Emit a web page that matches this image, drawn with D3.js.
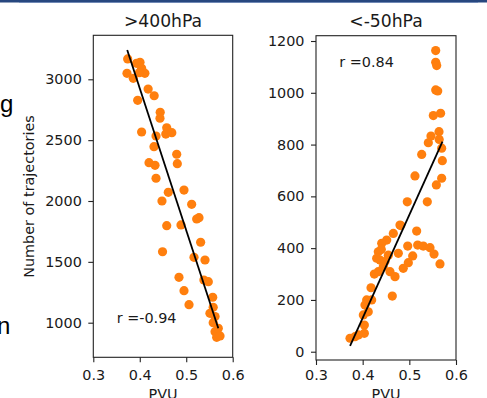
<!DOCTYPE html>
<html>
<head>
<meta charset="utf-8">
<script src="https://cdn.jsdelivr.net/npm/d3@7"></script>
<style>
  body { margin: 0; background: #fff; }
  svg { display: block; }
  text { font-family: "DejaVu Sans", sans-serif; fill: #1a1a1a; }
</style>
</head>
<body>
<svg id="chart" width="487" height="398"></svg>
<script>
// values
var titles = [">400hPa", "<-50hPa"];
var rLabels = ["r =-0.94", "r =0.84"];

// >400hPa panel: pvu, number of trajectories
var pvuHigh = [0.374, 0.3725, 0.386, 0.4005, 0.393, 0.404, 0.411, 0.399, 0.418, 0.431, 0.3955, 0.444, 0.4435,
  0.404, 0.435, 0.458, 0.456, 0.469, 0.4306, 0.4795, 0.4808, 0.4199, 0.4328, 0.435, 0.4952, 0.4614, 0.4478,
  0.5117, 0.5275, 0.5225, 0.458, 0.4887, 0.531, 0.449, 0.5167, 0.5404, 0.538, 0.5475, 0.4844, 0.4952, 0.557,
  0.506, 0.558, 0.551, 0.562, 0.558, 0.569, 0.562, 0.5655, 0.5727];
var nHigh = [3167, 3049, 3008, 3140, 3131, 3090, 3049, 3054, 2920, 2865, 2827, 2729, 2680,
  2567, 2534, 2602, 2550, 2561, 2446, 2384, 2307, 2315, 2293, 2187, 2090, 2071, 2000,
  1973, 1863, 1852, 1797, 1803, 1661, 1583, 1537, 1515, 1351, 1337, 1373, 1263, 1209,
  1148, 1127, 1077, 1050, 1000, 954, 926, 880, 891];

// <-50hPa panel
var pvuLow = [0.5565, 0.5565, 0.5586, 0.5565, 0.5608, 0.5514, 0.567, 0.5636, 0.5464, 0.5407, 0.564, 0.5693,
  0.5707, 0.5265, 0.5121, 0.5693, 0.5579, 0.4956, 0.5385, 0.48, 0.5157, 0.4815, 0.4657, 0.4515, 0.4408,
  0.4335, 0.43, 0.4371, 0.4479, 0.4335, 0.4442, 0.455, 0.4764, 0.4586, 0.4693, 0.4965, 0.5072, 0.4978,
  0.487, 0.5179, 0.5299, 0.5443, 0.5529, 0.5657, 0.4635, 0.4179, 0.4193, 0.4086, 0.405, 0.4014, 0.412,
  0.4036, 0.4036, 0.3907, 0.3729, 0.3836, 0.44, 0.425];
var nLow = [1163, 1118, 1105, 1011, 1007, 912, 921, 850, 833, 807, 820, 786,
  738, 762, 679, 670, 644, 579, 579, 489, 466, 487, 457, 431, 419,
  386, 361, 354, 348, 309, 328, 373, 380, 309, 290, 408, 370, 344,
  322, 412, 408, 402, 377, 339, 215, 247, 200, 200, 180, 142, 154,
  103, 71, 65, 52, 58, 395, 300];

// fitted lines (end points)
var fitHigh = [[0.373, 3241], [0.569, 954]];
var fitLow = [[0.373, 23], [0.571, 811]];

var xTicks = [0.3, 0.4, 0.5, 0.6];
var yTicksHigh = [1000, 1500, 2000, 2500, 3000];
var yTicksLow = [0, 200, 400, 600, 800, 1000, 1200];

var svg = d3.select("#chart");

// slide header strip
svg.append("rect").attr("x", 0).attr("y", 0).attr("width", 487).attr("height", 2.5).attr("fill", "#27477f");
svg.append("rect").attr("x", 19).attr("y", 2).attr("width", 459).attr("height", 1).attr("fill", "#6f88b5");

// slide text cut off on the left
svg.append("text").attr("x", 0).attr("y", 112).style("font-family", "Liberation Sans, Arial, sans-serif")
  .style("font-size", "24px").style("fill", "#000").text("g");
svg.append("text").attr("x", -3).attr("y", 334).style("font-family", "Liberation Sans, Arial, sans-serif")
  .style("font-size", "24px").style("fill", "#000").text("n");

var panels = [
  {x0: 93.3, x1: 232.7, y0: 35.3, y1: 357.3, ydom: [715.7, 3361.5], pvu: pvuHigh, n: nHigh, fit: fitHigh,
   yt: yTicksHigh, title: titles[0], r: rLabels[0], rx: 116.7, ry: 322.5, ylabel: true},
  {x0: 316, x1: 456, y0: 35.7, y1: 360, ydom: [-32, 1220.5], pvu: pvuLow, n: nLow, fit: fitLow,
   yt: yTicksLow, title: titles[1], r: rLabels[1], rx: 339.3, ry: 66.7, ylabel: false}
];

panels.forEach(function(p) {
  var x = d3.scaleLinear().domain([0.3, 0.6]).range([p.x0, p.x1]);
  var y = d3.scaleLinear().domain(p.ydom).range([p.y1, p.y0]);
  var g = svg.append("g");

  var pts = p.pvu.map(function(d, i) { return [d, p.n[i]]; });
  g.selectAll("circle").data(pts).enter().append("circle")
    .attr("cx", d => x(d[0])).attr("cy", d => y(d[1]))
    .attr("r", 4.6).attr("fill", "#ff7f0e");

  g.append("path")
    .attr("d", d3.line().x(d => x(d[0])).y(d => y(d[1]))(p.fit))
    .attr("fill", "none").attr("stroke", "#000").attr("stroke-width", 1.8);

  // frame
  g.append("rect").attr("x", p.x0).attr("y", p.y0).attr("width", p.x1 - p.x0).attr("height", p.y1 - p.y0)
    .attr("fill", "none").attr("stroke", "#222").attr("stroke-width", 1.1);

  var xa = g.append("g").attr("transform", "translate(0," + p.y1 + ")")
    .call(d3.axisBottom(x).tickValues(xTicks).tickFormat(d3.format(".1f")).tickSizeOuter(0).tickSize(5).tickPadding(4));
  var ya = g.append("g").attr("transform", "translate(" + p.x0 + ",0)")
    .call(d3.axisLeft(y).tickValues(p.yt).tickFormat(d3.format("d")).tickSizeOuter(0).tickSize(5).tickPadding(6.5));
  [xa, ya].forEach(function(a) {
    a.select(".domain").remove();
    a.selectAll("line").attr("stroke", "#222").attr("stroke-width", 1.1);
    a.selectAll("text").style("font-size", "14.4px").style("font-family", "DejaVu Sans").attr("fill", "#1a1a1a");
  });
  xa.selectAll("text").attr("y", 0).attr("dy", 0).attr("transform", "translate(0," + (380 - p.y1) + ")");

  var cx = (p.x0 + p.x1) / 2;
  svg.append("text").attr("x", cx).attr("y", 27.3).attr("text-anchor", "middle")
    .style("font-size", "17.2px").text(p.title);
  svg.append("text").attr("x", cx).attr("y", 399).attr("text-anchor", "middle")
    .style("font-size", "14.4px").text("PVU");
  svg.append("text").attr("x", p.rx).attr("y", p.ry)
    .style("font-size", "14.4px").text(p.r);

  if (p.ylabel) {
    svg.append("text").attr("transform", "translate(33.5,196.5) rotate(-90)").attr("text-anchor", "middle")
      .style("font-size", "14.4px").text("Number of trajectories");
  }
});
</script>
</body>
</html>
